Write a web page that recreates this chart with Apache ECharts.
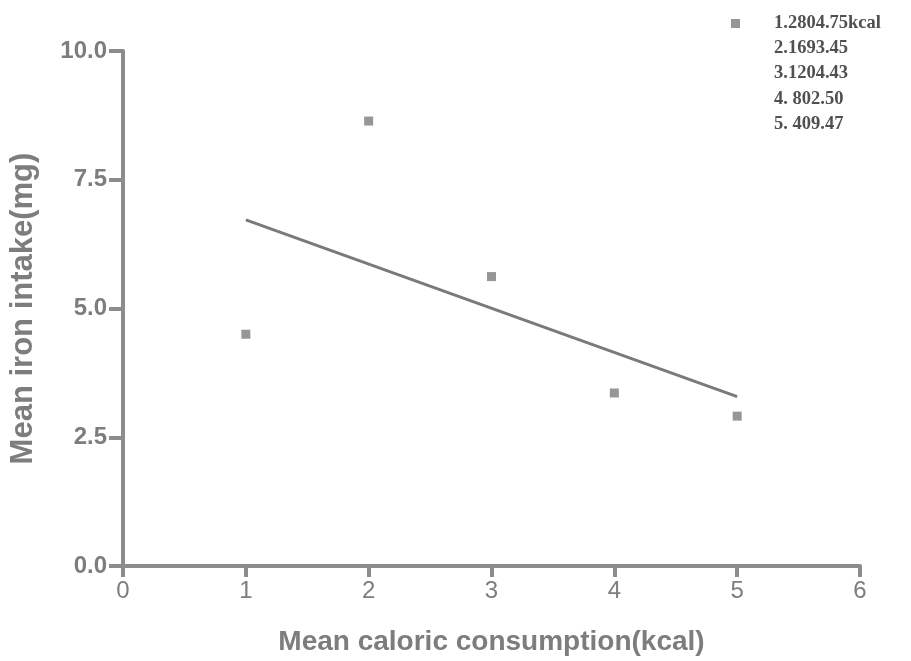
<!DOCTYPE html>
<html>
<head>
<meta charset="utf-8">
<script src="https://cdn.jsdelivr.net/npm/echarts@6/dist/echarts.min.js"></script>
<style>
  html, body { margin: 0; padding: 0; background: #fff; }
  #chart { width: 911px; height: 661px; }
</style>
</head>
<body>
<div id="chart"></div>
<script>
// values
const xValues = [1, 2, 3, 4, 5]
const ironValues = [4.5, 8.64, 5.62, 3.36, 2.91]
const fitX = [1, 5]
const fitY = [6.72, 3.29]
const legendLines = ['1.2804.75kcal', '2.1693.45', '3.1204.43', '4. 802.50', '5. 409.47']

const chart = echarts.init(document.getElementById('chart'))

const axisGrey = '#8c8c8c'
const textGrey = '#7d7d7d'

const option = {
  animation: false,
  grid: {
    left: 123,
    top: 51,
    right: 51,
    bottom: 94
  },
  legend: {
    data: [legendLines[0]],
    left: 731,
    top: 14,
    padding: 0,
    itemWidth: 9,
    itemHeight: 9,
    textStyle: {
      fontFamily: 'Liberation Serif',
      fontWeight: 'bold',
      fontSize: 18.5,
      color: '#505050',
      padding: [0, 0, 0, 29]
    }
  },
  graphic: [{
    type: 'text',
    left: 774,
    top: 35.5,
    style: {
      text: legendLines.slice(1).join('\n'),
      font: 'bold 18.5px "Liberation Serif"',
      fill: '#505050',
      lineHeight: 25.3
    }
  }],
  xAxis: {
    type: 'value',
    min: 0,
    max: 6,
    interval: 1,
    name: 'Mean caloric consumption(kcal)',
    nameLocation: 'middle',
    nameGap: 62,
    nameTextStyle: {
      fontFamily: 'Liberation Sans',
      fontWeight: 'bold',
      fontSize: 28,
      color: textGrey
    },
    axisLine: { lineStyle: { color: axisGrey, width: 4 } },
    axisTick: { length: 11, lineStyle: { color: axisGrey, width: 4 } },
    axisLabel: {
      fontFamily: 'Liberation Sans',
      fontSize: 24,
      color: textGrey,
      margin: 13
    },
    splitLine: { show: false }
  },
  yAxis: {
    type: 'value',
    min: 0,
    max: 10,
    interval: 2.5,
    name: 'Mean iron intake(mg)',
    nameLocation: 'middle',
    nameGap: 84,
    nameTextStyle: {
      fontFamily: 'Liberation Sans',
      fontWeight: 'bold',
      fontSize: 31,
      color: textGrey
    },
    axisLine: { lineStyle: { color: axisGrey, width: 4 } },
    axisTick: { length: 14, lineStyle: { color: axisGrey, width: 4 } },
    axisLabel: {
      fontFamily: 'Liberation Sans',
      fontWeight: 'bold',
      fontSize: 24,
      color: textGrey,
      margin: 16,
      formatter: v => v.toFixed(1)
    },
    splitLine: { show: false }
  },
  series: [{
    name: legendLines[0],
    type: 'scatter',
    symbol: 'rect',
    symbolSize: 9,
    itemStyle: { color: '#7c7c7c' },
    data: xValues.map((x, i) => [x, ironValues[i]])
  }, {
    type: 'line',
    showSymbol: false,
    symbol: 'none',
    lineStyle: { color: '#7a7a7a', width: 3 },
    data: fitX.map((x, i) => [x, fitY[i]])
  }]
}

chart.setOption(option)
</script>
</body>
</html>
